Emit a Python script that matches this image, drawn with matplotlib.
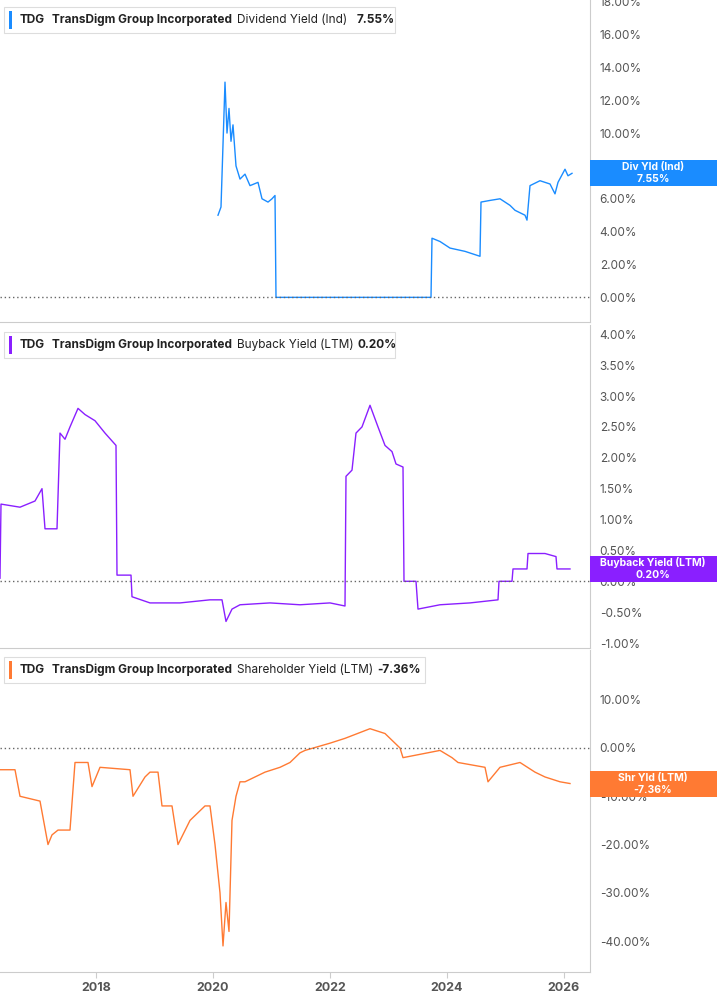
import matplotlib
matplotlib.use("Agg")
import matplotlib.pyplot as plt

W, H = 717, 1005
X0 = 2016.36
PXY = 58.5

# ---- data (dates as pixel-measured positions, values in %) ----
div_px = [218,221,225,227,229,231,233,236,240,245,250,258,262,268,272,275,276,431,432,440,450,465,475,480,481,490,500,510,515,525,527,530,540,550,555,558,565,568,572]
div_y = [5.0,5.5,13.1,10.0,11.5,9.5,10.5,8.0,7.2,7.5,6.8,7.0,6.0,5.8,6.0,6.2,0.0,0.0,3.6,3.4,3.0,2.8,2.6,2.5,5.8,5.9,6.0,5.6,5.3,5.0,4.7,6.8,7.1,6.9,6.3,7.0,7.8,7.4,7.55]

bb_px = [0,1,20,35,42,45,57,60,65,70,78,85,95,105,116,117,131,132,150,180,210,222,226,232,240,270,300,330,345,346,352,356,362,370,378,385,392,396,403,404,416,418,440,470,498,499,512,513,527,528,545,556,557,570]
bb_y = [0.05,1.25,1.2,1.3,1.5,0.85,0.85,2.4,2.3,2.5,2.8,2.7,2.6,2.4,2.2,0.1,0.1,-0.25,-0.35,-0.35,-0.3,-0.3,-0.65,-0.45,-0.38,-0.35,-0.38,-0.35,-0.4,1.7,1.8,2.4,2.5,2.85,2.5,2.2,2.1,1.9,1.85,0.0,0.0,-0.45,-0.38,-0.35,-0.3,0.0,0.0,0.2,0.2,0.45,0.45,0.4,0.2,0.2]

sh_px = [0,15,20,40,48,52,58,70,75,88,92,100,130,133,145,150,158,162,172,178,190,205,210,215,220,223,226,229,232,236,240,245,265,280,290,300,305,330,345,370,385,400,403,440,452,458,485,488,500,520,535,545,560,570]
sh_y = [-4.5,-4.5,-10,-11,-20,-18,-17,-17,-3,-3,-8,-4,-4.5,-10,-6,-5,-5,-12,-12,-20,-15,-12,-12,-20,-30,-41,-32,-38,-15,-10,-7,-7,-5,-4,-3,-1,-0.5,1,2,4,3,0,-2,-0.5,-2,-3,-4,-7,-4,-3,-5,-6,-7,-7.36]

years = [2018, 2020, 2022, 2024, 2026]

def to_year(px):
    return [X0 + p / PXY for p in px]

plt.rcParams['font.family'] = ['Inter', 'DejaVu Sans']
fig = plt.figure(figsize=(W/100, H/100), dpi=100)
GRAY = "#555555"
panels = [
    (0, 322, -1.5, 18.1, [0,2,4,6,8,10,12,14,16,18], div_px, div_y, "#1a8cff",
     "Dividend Yield (Ind)", "7.55%", "Div Yld (Ind)", 7.55, 391),
    (325, 648, -1.08, 4.15, [-1,-0.5,0,0.5,1,1.5,2,2.5,3,3.5,4], bb_px, bb_y, "#8a1fff",
     "Buyback Yield (LTM)", "0.20%", "Buyback Yield (LTM)", 0.20, 391),
    (650, 972, -46.4, 20.3, [-40,-30,-20,-10,0,10], sh_px, sh_y, "#ff7a33",
     "Shareholder Yield (LTM)", "-7.36%", "Shr Yld (LTM)", -7.36, 421),
]
for i, (t, b, lo, hi, ticks, pxs, ys, col, name, val, tag, last, bw) in enumerate(panels):
    ax = fig.add_axes([0, 1 - b/H, 590/W, (b - t)/H])
    ax.plot(to_year(pxs), ys, color=col, lw=1.0)
    ax.axhline(0, color="#666666", lw=1, ls=(0, (1, 2)))
    ax.set_xlim(X0, X0 + 590/PXY)
    ax.set_ylim(lo, hi)
    ax.yaxis.tick_right()
    ax.set_yticks(ticks)
    ax.set_yticklabels(["%.2f%%" % v for v in ticks], fontsize=8.5, color=GRAY)
    ax.tick_params(axis="y", length=0, pad=7)
    for s in ["left", "top"]:
        ax.spines[s].set_visible(False)
    ax.spines["right"].set_color("#cccccc")
    ax.spines["bottom"].set_color("#cccccc")
    ax.set_xticks(years)
    if i < 2:
        ax.tick_params(axis="x", length=0, labelbottom=False)
    else:
        ax.set_xticklabels([str(y) for y in years], fontsize=9, color=GRAY, fontweight="bold")
        ax.tick_params(axis="x", length=4, color="#cccccc")
    ty = 1 - (t + 20)/H
    fig.patches.append(plt.Rectangle((4/W, 1-(t+33)/H), bw/W, 26/H, transform=fig.transFigure,
                                     facecolor="white", edgecolor="#dddddd", lw=0.8))
    fig.patches.append(plt.Rectangle((9/W, 1-(t+29)/H), 3/W, 18/H, transform=fig.transFigure, facecolor=col))
    fig.text(20/W, ty, "TDG", fontsize=8.5, fontweight="bold", va="center", color="#222222")
    fig.text(52/W, ty, "TransDigm Group Incorporated", fontsize=8.5, fontweight="bold", va="center", color="#222222")
    fig.text(237/W, ty, name, fontsize=8.5, va="center", color="#222222")
    fig.text((357 if i < 2 else 377)/W, ty, val, fontsize=8.5, fontweight="bold", va="center", color="#222222")
    yl = (last - lo) / (hi - lo)
    ypix = b - yl * (b - t)
    fig.patches.append(plt.Rectangle((590/W, 1-(ypix+13)/H), 127/W, 26/H, transform=fig.transFigure, facecolor=col, zorder=5))
    fig.text(653/W, 1-(ypix-6)/H, tag, fontsize=7.5, fontweight="bold", color="white", ha="center", va="center", zorder=6)
    fig.text(653/W, 1-(ypix+6)/H, val, fontsize=7.5, fontweight="bold", color="white", ha="center", va="center", zorder=6)

fig.savefig("out.png", dpi=100)
